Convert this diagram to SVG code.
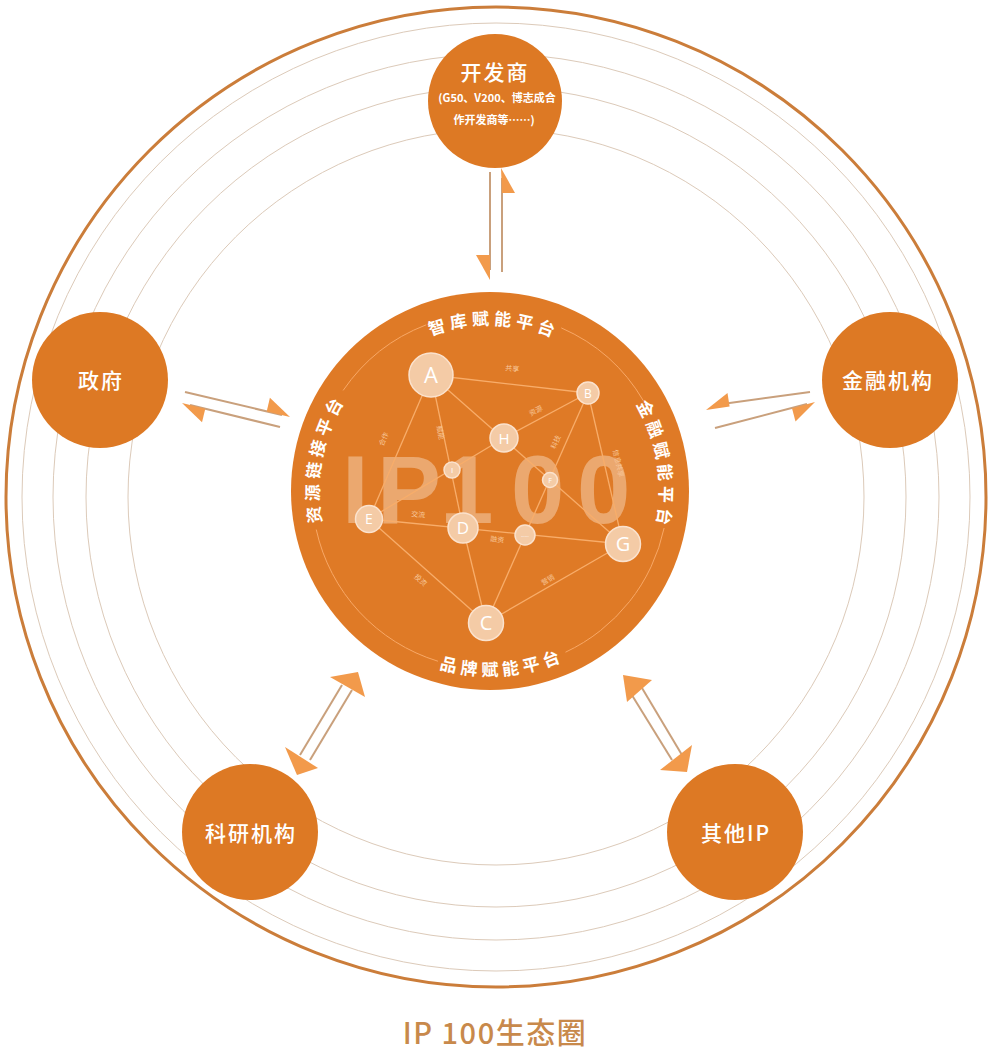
<svg xmlns="http://www.w3.org/2000/svg" width="990" height="1052" viewBox="0 0 990 1052">
<style>
.ring{fill:none;stroke:#DCCAB9;stroke-width:1}
.outer{fill:none;stroke:#CB7D3A;stroke-width:3}
.node{fill:#DD7924}
.ntext{font-family:"Noto Sans CJK SC","Liberation Sans",sans-serif;font-size:21px;fill:#fff;text-anchor:middle;letter-spacing:2px;font-weight:500}
.sub{font-family:"Noto Sans CJK SC","Liberation Sans",sans-serif;font-size:11px;fill:#fff;text-anchor:middle;font-weight:bold}
.shaft{stroke:#C9A07C;stroke-width:2;fill:none}
.head{fill:#F29A4B}
.plat{font-family:"Noto Sans CJK SC",sans-serif;font-size:17px;fill:#fff;font-weight:bold;letter-spacing:4.5px}
.iring{fill:none;stroke:#F8A866;stroke-width:1}
.edge{stroke:#F8AD6A;stroke-width:1.3;fill:none}
.el{font-family:"Noto Sans CJK SC",sans-serif;font-size:7px;fill:#F8C79B;text-anchor:middle}
.cn{fill:#F4CBA6;stroke:#FBE2CD;stroke-width:1.5}
.cl{font-family:"Open Sans","Liberation Sans",sans-serif;fill:#fff;text-anchor:middle}
</style>
<defs>
<path id="pTop" d="M324.04,487.23 A166,166 0 0 1 655.96,494.77"/>
<path id="pRight" d="M463.25,322.11 A171,171 0 0 1 516.75,659.89"/>
<path id="pLeft" d="M457.37,658.86 A171,171 0 0 1 522.63,323.14"/>
<path id="pBottom" d="M305.45,503.91 A185,185 0 0 0 674.55,478.09"/>
</defs>
<rect width="990" height="1052" fill="#fff"/>
<g id="rings">
<circle class="outer" cx="496" cy="497" r="490"/>
<circle class="ring" cx="496" cy="497" r="474"/>
<circle class="ring" cx="496" cy="497" r="443"/>
<circle class="ring" cx="496" cy="497" r="410"/>
<circle class="ring" cx="496" cy="497" r="368"/>
</g>
<g id="core">
<circle cx="490" cy="491" r="199" fill="#DF7A26"/>
<path class="iring" d="M343.12,390.44 A178,178 0 0 1 426.21,324.82 M561.26,327.89 A178,178 0 0 1 643.53,400.93 M664.11,528.01 A178,178 0 0 1 565.51,652.19 M437.96,661.22 A178,178 0 0 1 316.22,529.53"/>
<text class="plat"><textPath href="#pTop" startOffset="50%" text-anchor="middle">智库赋能平台</textPath></text>
<text class="plat"><textPath href="#pRight" startOffset="50%" text-anchor="middle">金融赋能平台</textPath></text>
<text class="plat"><textPath href="#pLeft" startOffset="50%" text-anchor="middle">资源链接平台</textPath></text>
<text class="plat"><textPath href="#pBottom" startOffset="50%" text-anchor="middle">品牌赋能平台</textPath></text>
<text font-family="Liberation Sans,sans-serif" font-weight="bold" font-size="96" fill="#F8D5B8" fill-opacity="0.5" y="523"><tspan x="342">I</tspan><tspan x="377">P</tspan><tspan x="440">1</tspan><tspan x="511">0</tspan><tspan x="577">0</tspan></text>
</g>
<g id="inner-connectors">
<line class="edge" x1="431" y1="375" x2="588" y2="393"/>
<line class="edge" x1="431" y1="375" x2="623" y2="544"/>
<line class="edge" x1="431" y1="375" x2="463" y2="528"/>
<line class="edge" x1="431" y1="375" x2="369" y2="519"/>
<line class="edge" x1="369" y1="519" x2="504" y2="438"/>
<line class="edge" x1="588" y1="393" x2="486" y2="623"/>
<line class="edge" x1="588" y1="393" x2="623" y2="544"/>
<line class="edge" x1="504" y1="438" x2="588" y2="393"/>
<line class="edge" x1="369" y1="519" x2="623" y2="544"/>
<line class="edge" x1="369" y1="519" x2="486" y2="623"/>
<line class="edge" x1="463" y1="528" x2="486" y2="623"/>
<line class="edge" x1="486" y1="623" x2="623" y2="544"/>
<text class="el" transform="translate(512,371) rotate(6.5)">共享</text>
<text class="el" transform="translate(537,413) rotate(-28)">资源</text>
<text class="el" transform="translate(386,440) rotate(-67)">合作</text>
<text class="el" transform="translate(438,433) rotate(78)">赋能</text>
<text class="el" transform="translate(558,443) rotate(-66)">科技</text>
<text class="el" transform="translate(616,464) rotate(77)">信息共享</text>
<text class="el" transform="translate(418,517) rotate(5.6)">交流</text>
<text class="el" transform="translate(497,542) rotate(5.6)">融资</text>
<text class="el" transform="translate(419,582) rotate(41.6)">投资</text>
<text class="el" transform="translate(549,582) rotate(-30)">营销</text>
</g>
<g id="inner-nodes">
<g id="nA"><circle class="cn" cx="431" cy="375" r="22"/><text class="cl" x="431" y="383" font-size="22">A</text></g>
<g id="nB"><circle class="cn" cx="588" cy="393" r="11"/><text class="cl" x="588" y="397.5" font-size="12">B</text></g>
<g id="nH"><circle class="cn" cx="504" cy="438" r="14"/><text class="cl" x="504" y="443.5" font-size="15">H</text></g>
<g id="nI"><circle class="cn" cx="452" cy="470" r="8"/><text class="cl" x="452" y="473" font-size="8">I</text></g>
<g id="nF"><circle class="cn" cx="550" cy="480" r="7.5"/><text class="cl" x="550" y="483" font-size="7">F</text></g>
<g id="nE"><circle class="cn" cx="369" cy="519" r="13.5"/><text class="cl" x="369" y="524" font-size="14">E</text></g>
<g id="nD"><circle class="cn" cx="463" cy="528" r="15"/><text class="cl" x="463" y="534" font-size="17">D</text></g>
<g id="nK"><circle class="cn" cx="525" cy="535" r="10"/><text class="cl" x="525" y="537" font-size="5">……</text></g>
<g id="nG"><circle class="cn" cx="623" cy="544" r="17.5"/><text class="cl" x="623" y="551" font-size="20">G</text></g>
<g id="nC"><circle class="cn" cx="486" cy="623" r="17.5"/><text class="cl" x="486" y="630" font-size="20">C</text></g>
</g>
<g id="connectors">
<line class="shaft" x1="490" y1="172" x2="490" y2="270"/>
<polygon class="head" points="490,280 490,255 476,255"/>
<line class="shaft" x1="502" y1="178" x2="502" y2="272"/>
<polygon class="head" points="501,168 515,193 502,193"/>
<line class="shaft" x1="185" y1="392" x2="282" y2="415"/>
<polygon class="head" points="290,417 266.7,411.4 269.9,397.8"/>
<line class="shaft" x1="190" y1="405" x2="280" y2="427"/>
<polygon class="head" points="182,403 205.3,408.7 202,422.3"/>
<line class="shaft" x1="715" y1="405" x2="810" y2="392"/>
<polygon class="head" points="706,410 729.6,406.4 727.5,393"/>
<line class="shaft" x1="715" y1="428" x2="807" y2="404"/>
<polygon class="head" points="815,402 792,408.2 795.5,421.6"/>
<line class="shaft" x1="342" y1="685" x2="300" y2="755"/>
<line class="shaft" x1="352" y1="690" x2="310" y2="760"/>
<polygon class="head" points="358,672 330,677 365,697"/>
<polygon class="head" points="297,775 285,747 318,768"/>
<line class="shaft" x1="630" y1="692" x2="672" y2="760"/>
<line class="shaft" x1="642" y1="688" x2="682" y2="755"/>
<polygon class="head" points="623,675 652,680 627,702"/>
<polygon class="head" points="687,772 660,770 692,745"/>
</g>
<g id="n-dev"><circle class="node" cx="495" cy="101" r="67"/><text class="ntext" x="495" y="80" font-weight="bold">开发商</text><text class="sub" x="497" y="102">(G50、V200、博志成合</text><text class="sub" x="494" y="124">作开发商等……)</text></g>
<g id="n-gov"><circle class="node" cx="100" cy="380" r="68"/><text class="ntext" x="101" y="388">政府</text></g>
<g id="n-fin"><circle class="node" cx="890" cy="380" r="68"/><text class="ntext" x="888" y="388">金融机构</text></g>
<g id="n-res"><circle class="node" cx="250" cy="832" r="68"/><text class="ntext" x="251" y="841">科研机构</text></g>
<g id="n-ip"><circle class="node" cx="735" cy="832" r="68"/><text class="ntext" x="736" y="841">其他IP</text></g>
<text x="495" y="1044" font-family="Noto Sans CJK SC,sans-serif" font-size="29" font-weight="500" fill="#C8894B" text-anchor="middle" letter-spacing="1.5">IP 100生态圈</text>
</svg>
